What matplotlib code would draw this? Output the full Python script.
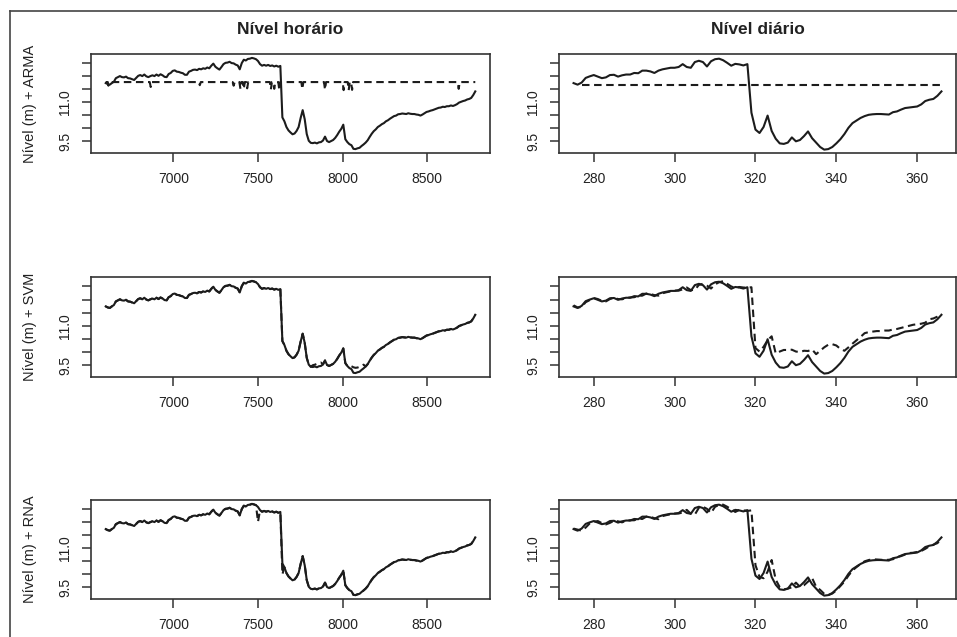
import matplotlib
matplotlib.use("Agg")
import matplotlib.pyplot as plt
import numpy as np
from matplotlib.lines import Line2D

plt.rcParams['font.family'] = ['Liberation Sans', 'DejaVu Sans']

INK = "#1c1c1c"

# hourly observed level, one value every 12 h starting at hour 6600
HOUR_START = 6600
HOUR_STEP = 12
obs_hourly = [
    11.74, 11.70, 11.68, 11.74, 11.79, 11.93, 11.97, 12.01, 11.97, 11.96,
    11.99, 11.93, 11.92, 11.89, 11.86, 11.94, 12.02, 12.05, 12.01, 12.07,
    12.00, 11.97, 12.01, 12.04, 12.01, 12.07, 12.02, 12.08, 12.04, 11.98,
    11.97, 12.09, 12.13, 12.21, 12.23, 12.18, 12.17, 12.14, 12.12, 12.06,
    12.06, 12.18, 12.21, 12.25, 12.26, 12.24, 12.29, 12.27, 12.31, 12.29,
    12.34, 12.31, 12.41, 12.49, 12.37, 12.31, 12.26, 12.36, 12.47, 12.52,
    12.53, 12.56, 12.51, 12.50, 12.45, 12.42, 12.27, 12.51, 12.64, 12.61,
    12.67, 12.68, 12.71, 12.69, 12.66, 12.59, 12.47, 12.41, 12.44, 12.41,
    12.44, 12.40, 12.42, 12.38, 12.41, 12.37, 12.40, 10.42, 10.27, 10.05,
    9.92, 9.84, 9.77, 9.80, 9.90, 10.05, 10.40, 10.70, 10.35, 9.78,
    9.52, 9.44, 9.43, 9.45, 9.42, 9.46, 9.47, 9.53, 9.68, 9.51,
    9.47, 9.51, 9.55, 9.63, 9.74, 9.87, 9.98, 10.14, 9.58, 9.47,
    9.39, 9.35, 9.21, 9.20, 9.23, 9.25, 9.32, 9.38, 9.45, 9.54,
    9.67, 9.79, 9.89, 9.96, 10.05, 10.10, 10.16, 10.20, 10.27, 10.31,
    10.37, 10.42, 10.47, 10.49, 10.54, 10.55, 10.57, 10.56, 10.55, 10.58,
    10.56, 10.55, 10.55, 10.53, 10.52, 10.49, 10.53, 10.58, 10.63, 10.65,
    10.68, 10.70, 10.73, 10.76, 10.79, 10.80, 10.83, 10.82, 10.85, 10.85,
    10.88, 10.86, 10.89, 10.93, 10.99, 11.02, 11.05, 11.07, 11.11, 11.13,
    11.17, 11.28, 11.42,
]

# ARMA hourly forecast: flat level with short downward dips
arma_hourly_t = [6600, 6612, 6616, 6620, 6860, 6866, 6872, 7150, 7156, 7162,
                 7350, 7356, 7362, 7390, 7396, 7402, 7410, 7416, 7422, 7430,
                 7436, 7442, 7570, 7576, 7582, 7590, 7596, 7602, 7620, 7626,
                 7632, 7756, 7762, 7768, 7890, 7896, 7902, 8000, 8006, 8012,
                 8030, 8036, 8042, 8050, 8056, 8062, 8680, 8686, 8692, 8784]
arma_hourly_v = [11.78, 11.78, 11.64, 11.78, 11.78, 11.59, 11.78, 11.78, 11.66, 11.78,
                 11.78, 11.64, 11.78, 11.78, 11.52, 11.78, 11.78, 11.52, 11.78, 11.78,
                 11.54, 11.78, 11.78, 11.50, 11.78, 11.78, 11.52, 11.78, 11.78, 11.46,
                 11.78, 11.78, 11.51, 11.78, 11.78, 11.49, 11.78, 11.78, 11.47, 11.78,
                 11.78, 11.47, 11.78, 11.78, 11.48, 11.78, 11.78, 11.52, 11.78, 11.78]

# SVM / RNA hourly forecasts follow the observed curve except at these hours
svm_hourly_fix_t = [7824, 7836, 7848, 7860, 7872, 8040, 8052, 8064, 8076, 8088, 8100, 8112, 8124]
svm_hourly_fix_v = [9.50, 9.52, 9.55, 9.57, 9.60, 9.48, 9.46, 9.42, 9.40, 9.41, 9.44, 9.47, 9.52]
rna_hourly_fix_t = [7500, 7644]
rna_hourly_fix_v = [12.02, 10.00]

# daily series, days 275..366
days = list(range(275, 367))
obs_daily = [
    11.74, 11.68, 11.76, 11.94, 12.00, 12.05, 11.99, 11.93, 11.96, 12.05,
    12.06, 11.99, 12.04, 12.07, 12.07, 12.13, 12.12, 12.22, 12.22, 12.19,
    12.13, 12.22, 12.27, 12.30, 12.33, 12.33, 12.36, 12.47, 12.36, 12.33,
    12.55, 12.60, 12.55, 12.38, 12.58, 12.66, 12.68, 12.62, 12.52, 12.41,
    12.48, 12.46, 12.42, 12.47, 10.60, 9.95, 9.82, 10.05, 10.49, 9.90,
    9.60, 9.42, 9.40, 9.45, 9.65, 9.50, 9.55, 9.70, 9.88, 9.62,
    9.45, 9.28, 9.18, 9.20, 9.28, 9.42, 9.58, 9.78, 10.02, 10.20,
    10.30, 10.40, 10.47, 10.52, 10.54, 10.55, 10.55, 10.54, 10.53, 10.62,
    10.65, 10.72, 10.78, 10.80, 10.82, 10.84, 10.92, 11.05, 11.10, 11.13,
    11.25, 11.42,
]
svm_daily = [
    11.78, 11.70, 11.72, 11.90, 11.98, 12.06, 12.02, 11.95, 11.93, 12.02,
    12.07, 12.02, 12.01, 12.06, 12.08, 12.09, 12.14, 12.15, 12.23, 12.21,
    12.17, 12.15, 12.24, 12.28, 12.31, 12.34, 12.34, 12.39, 12.46, 12.36,
    12.37, 12.56, 12.60, 12.53, 12.42, 12.58, 12.66, 12.70, 12.60, 12.50,
    12.44, 12.48, 12.46, 12.45, 12.47, 10.15, 10.02, 10.20, 10.45, 10.60,
    9.95, 10.02, 10.08, 10.08, 10.09, 10.02, 10.00, 10.05, 10.04, 10.10,
    9.92, 10.05, 10.18, 10.28, 10.30, 10.25, 10.12, 10.05, 10.18, 10.32,
    10.45, 10.58, 10.72, 10.76, 10.78, 10.80, 10.80, 10.82, 10.82, 10.86,
    10.88, 10.92, 10.96, 11.00, 11.04, 11.06, 11.08, 11.12, 11.25, 11.28,
    11.35, 11.45,
]
rna_daily = [
    11.76, 11.72, 11.68, 11.80, 11.96, 12.02, 12.05, 11.97, 11.92, 11.98,
    12.06, 12.04, 12.00, 12.06, 12.08, 12.08, 12.14, 12.13, 12.22, 12.21,
    12.16, 12.12, 12.24, 12.28, 12.31, 12.34, 12.34, 12.38, 12.48, 12.33,
    12.30, 12.56, 12.60, 12.52, 12.36, 12.60, 12.67, 12.68, 12.60, 12.50,
    12.40, 12.48, 12.46, 12.44, 12.46, 10.35, 9.90, 9.85, 10.10, 10.55,
    9.80, 9.50, 9.42, 9.45, 9.50, 9.68, 9.52, 9.58, 9.72, 9.86,
    9.52, 9.40, 9.25, 9.20, 9.26, 9.38, 9.55, 9.72, 9.95, 10.15,
    10.28, 10.40, 10.50, 10.55, 10.58, 10.57, 10.56, 10.55, 10.56, 10.58,
    10.66, 10.70, 10.76, 10.82, 10.83, 10.86, 10.90, 10.98, 11.08, 11.14,
    11.20, 11.36,
]
arma_daily_t = [277, 366]
arma_daily_v = [11.65, 11.65]

row_labels = ["Nível (m) + ARMA", "Nível (m) + SVM", "Nível (m) + RNA"]
col_titles = ["Nível horário", "Nível diário"]

hours = HOUR_START + HOUR_STEP * np.arange(len(obs_hourly))
obs_h = np.array(obs_hourly)


def with_fixes(base, fix_t, fix_v):
    out = base.copy()
    for t, v in zip(fix_t, fix_v):
        out[(t - HOUR_START) // HOUR_STEP] = v
    return out


svm_h = with_fixes(obs_h, svm_hourly_fix_t, svm_hourly_fix_v)
rna_h = with_fixes(obs_h, rna_hourly_fix_t, rna_hourly_fix_v)

hourly_fc = [(arma_hourly_t, arma_hourly_v), (hours, svm_h), (hours, rna_h)]
daily_fc = [(arma_daily_t, arma_daily_v), (days, svm_daily), (days, rna_daily)]

W, H = 957, 637
fig = plt.figure(figsize=(W / 100, H / 100), dpi=100)

col_x = [(91, 490), (559, 956)]
row_y = [(54, 153), (277, 377), (500, 599)]
ylim = (9.05, 12.86)
yticks = [9.5, 10.0, 10.5, 11.0, 11.5, 12.0, 12.5]
ylabels = ["9.5", "", "", "11.0", "", "", ""]
DASH = (0, (3.6, 2.2))


def style(ax):
    for s in ax.spines.values():
        s.set_linewidth(1.2)
        s.set_color("#333333")
    ax.tick_params(direction="out", length=6.5, width=1.1, color="#333333",
                   labelsize=10, labelcolor="#222222", pad=7)
    ax.set_ylim(*ylim)
    ax.set_yticks(yticks)
    ax.set_yticklabels(ylabels, rotation=90, va="center")


for r in range(3):
    y0, y1 = row_y[r]
    for c in range(2):
        x0, x1 = col_x[c]
        ax = fig.add_axes([x0 / W, 1 - y1 / H, (x1 - x0) / W, (y1 - y0) / H])
        style(ax)
        if c == 0:
            ax.plot(hours, obs_h, color=INK, lw=1.5)
            ft, fv = hourly_fc[r]
            ax.plot(ft, fv, color=INK, lw=1.5, ls=DASH)
            ax.set_xlim(6513, 8871)
            ax.set_xticks([7000, 7500, 8000, 8500])
            fig.text(30 / W, 1 - (y0 + y1) / 2 / H, row_labels[r], rotation=90,
                     ha="center", va="center", fontsize=10.5, color="#222222")
        else:
            ax.plot(days, obs_daily, color=INK, lw=1.5)
            ft, fv = daily_fc[r]
            ax.plot(ft, fv, color=INK, lw=1.5, ls=DASH)
            ax.set_xlim(271.4, 369.6)
            ax.set_xticks([280, 300, 320, 340, 360])
        if r == 0:
            ax.text(0.5, 1 + 24 / (y1 - y0), col_titles[c], transform=ax.transAxes,
                    ha="center", va="center", fontsize=12.5, fontweight="bold",
                    color="#222222")

# page frame visible at top and left of the scan
fig.add_artist(Line2D([9.5 / W, 1], [1 - 10.5 / H, 1 - 10.5 / H], color="#444444", lw=1.2))
fig.add_artist(Line2D([9.5 / W, 9.5 / W], [0, 1 - 10.5 / H], color="#444444", lw=1.2))

fig.savefig("out.png", dpi=100)
